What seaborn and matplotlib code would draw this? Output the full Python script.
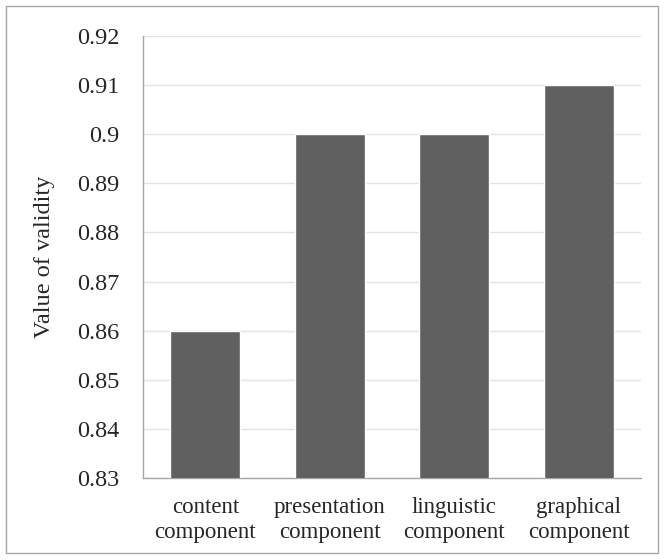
import seaborn as sns
import matplotlib.pyplot as plt
import pandas as pd
from matplotlib.patches import Rectangle

categories = ['content\ncomponent', 'presentation\ncomponent', 'linguistic\ncomponent', 'graphical\ncomponent']
validity = [0.86, 0.90, 0.90, 0.91]
y_ticks = [0.83, 0.84, 0.85, 0.86, 0.87, 0.88, 0.89, 0.90, 0.91, 0.92]
y_tick_labels = ['0.83', '0.84', '0.85', '0.86', '0.87', '0.88', '0.89', '0.9', '0.91', '0.92']

df = pd.DataFrame({'component': categories, 'validity': validity})

sns.set_style('white')
plt.rcParams['font.family'] = ['Liberation Serif', 'DejaVu Serif']

fig = plt.figure(figsize=(6.64, 5.6), dpi=100)
ax = fig.add_axes([0.2154, 0.1464, 0.75, 0.7893])

sns.barplot(data=df, x='component', y='validity', color='#606060', width=0.56,
            saturation=1, ax=ax, zorder=3)

ax.set_ylim(0.83, 0.92)
ax.set_yticks(y_ticks)
ax.set_yticklabels(y_tick_labels, fontsize=17.5)
ax.set_xticks(range(len(categories)))
ax.set_xticklabels(categories, fontsize=16.5, linespacing=1.2)
ax.tick_params(axis='x', length=0, pad=14)
ax.tick_params(axis='y', length=0, pad=17)
ax.yaxis.grid(True, color='#e3e3e3', linewidth=1, zorder=0)
ax.set_axisbelow(True)

for side in ['top', 'right']:
    ax.spines[side].set_visible(False)
for side in ['left', 'bottom']:
    ax.spines[side].set_color('#a6a6a6')
    ax.spines[side].set_linewidth(1)

ax.set_xlabel('')
ax.set_ylabel('Value of validity', fontsize=17.5, labelpad=16)

fig.patches.append(Rectangle((6 / 664, 7 / 560), 652 / 664, 547 / 560, transform=fig.transFigure,
                             fill=False, edgecolor='#a6a6a6', linewidth=1))

plt.savefig('out.png', dpi=100)
